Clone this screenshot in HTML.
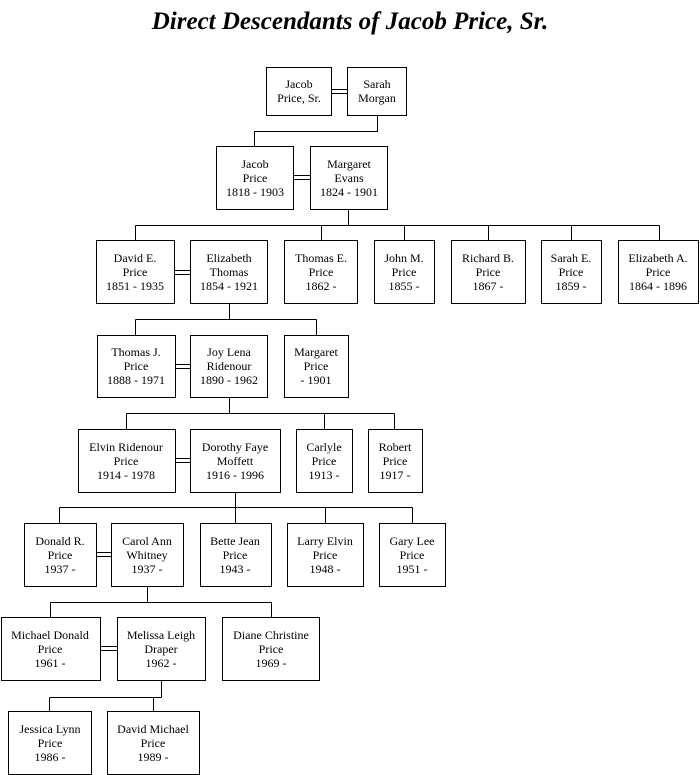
<!DOCTYPE html>
<html><head><meta charset="utf-8"><style>
html,body{margin:0;padding:0;background:#fff;width:700px;height:775px;overflow:hidden}
svg{display:block}
text{font-family:"Liberation Serif",serif;font-size:12px;fill:#000}
.t{font-size:25px;font-weight:bold;font-style:italic}
rect{fill:#fff;stroke:#000;stroke-width:1}
line,polyline{stroke:#000;stroke-width:1;fill:none}
</style></head><body>
<svg width="700" height="775" viewBox="0 0 700 775" xmlns="http://www.w3.org/2000/svg">
<text class="t" x="350" y="29" text-anchor="middle">Direct Descendants of Jacob Price, Sr.</text>
<g transform="translate(0.5,0.5)">
<polyline points="377,115 377,131 254,131 254,146"/>
<polyline points="348,209 348,225"/>
<line x1="135" y1="225" x2="659" y2="225"/>
<line x1="135" y1="225" x2="135" y2="240"/>
<line x1="321" y1="225" x2="321" y2="240"/>
<line x1="404" y1="225" x2="404" y2="240"/>
<line x1="488" y1="225" x2="488" y2="240"/>
<line x1="571" y1="225" x2="571" y2="240"/>
<line x1="659" y1="225" x2="659" y2="240"/>
<line x1="229" y1="303" x2="229" y2="319"/>
<line x1="135" y1="319" x2="316" y2="319"/>
<line x1="135" y1="319" x2="135" y2="335"/>
<line x1="316" y1="319" x2="316" y2="335"/>
<line x1="229" y1="397" x2="229" y2="413"/>
<line x1="126" y1="413" x2="394" y2="413"/>
<line x1="126" y1="413" x2="126" y2="429"/>
<line x1="324" y1="413" x2="324" y2="429"/>
<line x1="394" y1="413" x2="394" y2="429"/>
<line x1="235" y1="492" x2="235" y2="523"/>
<line x1="59" y1="507" x2="412" y2="507"/>
<line x1="59" y1="507" x2="59" y2="523"/>
<line x1="325" y1="507" x2="325" y2="523"/>
<line x1="412" y1="507" x2="412" y2="523"/>
<line x1="147" y1="586" x2="147" y2="602"/>
<line x1="50" y1="602" x2="271" y2="602"/>
<line x1="50" y1="602" x2="50" y2="617"/>
<line x1="271" y1="602" x2="271" y2="617"/>
<line x1="161" y1="680" x2="161" y2="697"/>
<line x1="49" y1="697" x2="161" y2="697"/>
<line x1="49" y1="697" x2="49" y2="711"/>
<line x1="153" y1="697" x2="153" y2="711"/>
<line x1="331" y1="89" x2="347" y2="89"/><line x1="331" y1="93" x2="347" y2="93"/>
<line x1="293" y1="175" x2="310" y2="175"/><line x1="293" y1="179" x2="310" y2="179"/>
<line x1="174" y1="270" x2="190" y2="270"/><line x1="174" y1="274" x2="190" y2="274"/>
<line x1="175" y1="364" x2="190" y2="364"/><line x1="175" y1="368" x2="190" y2="368"/>
<line x1="175" y1="458" x2="190" y2="458"/><line x1="175" y1="462" x2="190" y2="462"/>
<line x1="96" y1="552" x2="111" y2="552"/><line x1="96" y1="556" x2="111" y2="556"/>
<line x1="100" y1="646" x2="117" y2="646"/><line x1="100" y1="650" x2="117" y2="650"/>
<rect x="266" y="67" width="65" height="48"/><rect x="347" y="67" width="59" height="48"/>
<rect x="216" y="146" width="77" height="63"/><rect x="310" y="146" width="77" height="63"/>
<rect x="96" y="240" width="78" height="63"/><rect x="190" y="240" width="77" height="63"/>
<rect x="284" y="240" width="73" height="63"/><rect x="374" y="240" width="60" height="63"/>
<rect x="451" y="240" width="74" height="63"/><rect x="541" y="240" width="60" height="63"/>
<rect x="618" y="240" width="80" height="63"/>
<rect x="97" y="335" width="78" height="62"/><rect x="190" y="335" width="77" height="62"/>
<rect x="284" y="335" width="64" height="62"/>
<rect x="78" y="429" width="97" height="63"/><rect x="190" y="429" width="90" height="63"/>
<rect x="296" y="429" width="56" height="63"/><rect x="368" y="429" width="54" height="63"/>
<rect x="24" y="523" width="72" height="63"/><rect x="111" y="523" width="72" height="63"/>
<rect x="200" y="523" width="71" height="63"/><rect x="287" y="523" width="76" height="63"/>
<rect x="379" y="523" width="66" height="63"/>
<rect x="1" y="617" width="99" height="63"/><rect x="117" y="617" width="88" height="63"/>
<rect x="222" y="617" width="97" height="63"/>
<rect x="8" y="711" width="83" height="63"/><rect x="107" y="711" width="92" height="63"/>
</g>
<g text-anchor="middle">
<text x="299" y="88">Jacob</text><text x="299" y="102">Price, Sr.</text>
<text x="377" y="88">Sarah</text><text x="377" y="102">Morgan</text>
<text x="255" y="168">Jacob</text><text x="255" y="182">Price</text><text x="255" y="196">1818 - 1903</text>
<text x="349" y="168">Margaret</text><text x="349" y="182">Evans</text><text x="349" y="196">1824 - 1901</text>
<text x="135" y="262">David E.</text><text x="135" y="276">Price</text><text x="135" y="290">1851 - 1935</text>
<text x="229" y="262">Elizabeth</text><text x="229" y="276">Thomas</text><text x="229" y="290">1854 - 1921</text>
<text x="321" y="262">Thomas E.</text><text x="321" y="276">Price</text><text x="321" y="290">1862 -</text>
<text x="404" y="262">John M.</text><text x="404" y="276">Price</text><text x="404" y="290">1855 -</text>
<text x="488" y="262">Richard B.</text><text x="488" y="276">Price</text><text x="488" y="290">1867 -</text>
<text x="571" y="262">Sarah E.</text><text x="571" y="276">Price</text><text x="571" y="290">1859 -</text>
<text x="658" y="262">Elizabeth A.</text><text x="658" y="276">Price</text><text x="658" y="290">1864 - 1896</text>
<text x="136" y="356">Thomas J.</text><text x="136" y="370">Price</text><text x="136" y="384">1888 - 1971</text>
<text x="229" y="356">Joy Lena</text><text x="229" y="370">Ridenour</text><text x="229" y="384">1890 - 1962</text>
<text x="316" y="356">Margaret</text><text x="316" y="370">Price</text><text x="316" y="384">- 1901</text>
<text x="126" y="451">Elvin Ridenour</text><text x="126" y="465">Price</text><text x="126" y="479">1914 - 1978</text>
<text x="235" y="451">Dorothy Faye</text><text x="235" y="465">Moffett</text><text x="235" y="479">1916 - 1996</text>
<text x="324" y="451">Carlyle</text><text x="324" y="465">Price</text><text x="324" y="479">1913 -</text>
<text x="395" y="451">Robert</text><text x="395" y="465">Price</text><text x="395" y="479">1917 -</text>
<text x="60" y="545">Donald R.</text><text x="60" y="559">Price</text><text x="60" y="573">1937 -</text>
<text x="147" y="545">Carol Ann</text><text x="147" y="559">Whitney</text><text x="147" y="573">1937 -</text>
<text x="235" y="545">Bette Jean</text><text x="235" y="559">Price</text><text x="235" y="573">1943 -</text>
<text x="325" y="545">Larry Elvin</text><text x="325" y="559">Price</text><text x="325" y="573">1948 -</text>
<text x="412" y="545">Gary Lee</text><text x="412" y="559">Price</text><text x="412" y="573">1951 -</text>
<text x="50" y="639">Michael Donald</text><text x="50" y="653">Price</text><text x="50" y="667">1961 -</text>
<text x="161" y="639">Melissa Leigh</text><text x="161" y="653">Draper</text><text x="161" y="667">1962 -</text>
<text x="271" y="639">Diane Christine</text><text x="271" y="653">Price</text><text x="271" y="667">1969 -</text>
<text x="50" y="733">Jessica Lynn</text><text x="50" y="747">Price</text><text x="50" y="761">1986 -</text>
<text x="153" y="733">David Michael</text><text x="153" y="747">Price</text><text x="153" y="761">1989 -</text>
</g>
</svg>
</body></html>
